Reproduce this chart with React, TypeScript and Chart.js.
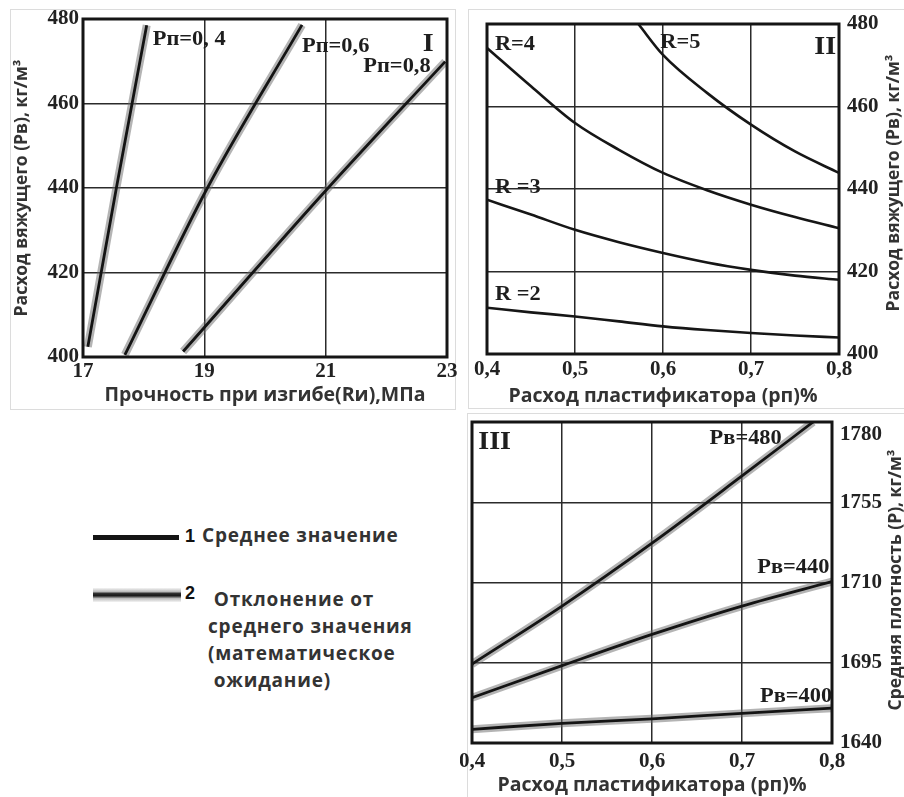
import React, { useEffect, useRef } from 'react';
import { Chart, registerables } from 'chart.js';

Chart.register(...registerables);

const SERIF = "'Liberation Serif', 'DejaVu Serif', 'Times New Roman', serif";
const SANS = "'Open Sans', 'Noto Sans', 'DejaVu Sans', sans-serif";

// ---------- Panel I : Прочность при изгибе ----------
const p1XTicks = [17, 19, 21, 23];
const p1YTicks = [400, 420, 440, 460, 480];
const p1Names = ['Рп=0, 4', 'Рп=0,6', 'Рп=0,8'];
const p1X04 = [17.08, 17.55, 18.05];
const p1Y04 = [402.4, 440, 478.5];
const p1X06 = [17.69, 19.05, 20.61];
const p1Y06 = [400.5, 440, 478.6];
const p1X08 = [18.65, 21.04, 22.97];
const p1Y08 = [401.3, 440, 469.9];

// ---------- Panel II : Расход вяжущего vs пластификатор ----------
const p2XTicks = [0.4, 0.5, 0.6, 0.7, 0.8];
const p2YTicks = [400, 420, 440, 460, 480];
const p2Names = ['R =2', 'R =3', 'R=4', 'R=5'];
const p2X = [0.4, 0.45, 0.5, 0.55, 0.6, 0.65, 0.7, 0.75, 0.8];
const p2R2 = [411.2, 410.1, 409.1, 407.9, 406.7, 405.8, 405.1, 404.5, 404.0];
const p2R3 = [437.4, 433.8, 430.1, 427.1, 424.5, 422.2, 420.4, 419.0, 418.0];
const p2R4 = [474.2, 464.9, 456.0, 449.5, 443.9, 439.7, 436.2, 433.2, 430.5];
const p2XR5 = [0.572, 0.6, 0.65, 0.7, 0.75, 0.8];
const p2R5 = [480, 472.5, 463.3, 455.6, 449.1, 443.9];

// ---------- Panel III : Средняя плотность ----------
const p3XTicks = [0.4, 0.5, 0.6, 0.7, 0.8];
const p3YTicks = [1640, 1695, 1710, 1755, 1780];
const p3Names = ['Рв=400', 'Рв=440', 'Рв=480'];
const p3X = [0.4, 0.5, 0.6, 0.7, 0.8];
const p3P400 = [1649.4, 1653.5, 1656.6, 1660.3, 1663.9];
const p3P440 = [1671, 1693, 1700.3, 1705.6, 1710.5];
const p3X480 = [0.4, 0.5, 0.6, 0.7, 0.779];
const p3P480 = [1694.1, 1705.6, 1732.1, 1763.2, 1780];

// label anchors (data units)
const p1Notes = [
  { text: p1Names[0], x: 18.15, y: 475, size: 20 },
  { text: p1Names[1], x: 20.61, y: 473.4, size: 20 },
  { text: p1Names[2], x: 21.62, y: 468.7, size: 20 },
  { text: 'I', x: 22.6, y: 473.9, size: 25 },
];
const p2Notes = [
  { text: p2Names[2], x: 0.409, y: 474.9, size: 20 },
  { text: p2Names[3], x: 0.597, y: 475.4, size: 20 },
  { text: p2Names[1], x: 0.409, y: 440.2, size: 20 },
  { text: p2Names[0], x: 0.409, y: 414.3, size: 20 },
  { text: 'II', x: 0.772, y: 474.4, size: 25 },
];
const p3Notes = [
  { text: p3Names[2], x: 0.664, y: 1774.8, size: 20 },
  { text: p3Names[1], x: 0.717, y: 1718, size: 20 },
  { text: p3Names[0], x: 0.72, y: 1671.5, size: 20 },
  { text: 'III', x: 0.407, y: 1773.7, size: 25 },
];

function pts(xs: number[], ys: number[]) {
  return xs.map((x, i) => ({ x, y: ys[i] }));
}

function densityToPos(d: number) {
  const v = p3YTicks;
  for (let i = 0; i < v.length - 1; i++) {
    if (d <= v[i + 1] || i === v.length - 2) return i + (d - v[i]) / (v[i + 1] - v[i]);
  }
  return 0;
}

function haloPair(data: any[], core = 2.8) {
  return [
    { data, borderColor: '#141414', borderWidth: core, pointRadius: 0, cubicInterpolationMode: 'monotone', order: 1 },
    { data, borderColor: 'rgba(105,105,105,0.5)', borderWidth: 8, pointRadius: 0, cubicInterpolationMode: 'monotone', order: 2 },
  ];
}

function plainLine(data: any[]) {
  return { data, borderColor: '#161616', borderWidth: 2.6, pointRadius: 0, cubicInterpolationMode: 'monotone', order: 1 };
}

const framePlugin = {
  id: 'frame',
  afterDatasetsDraw(chart: any) {
    const { ctx, chartArea: a } = chart;
    ctx.save();
    ctx.strokeStyle = '#151515';
    ctx.lineWidth = 3;
    ctx.strokeRect(a.left, a.top, a.right - a.left, a.bottom - a.top);
    ctx.restore();
  },
};

function notesPlugin(items: any[], mapY: (v: number) => number, side?: { text: string; x: number; y: number }) {
  return {
    id: 'notes',
    afterDraw(chart: any) {
      const { ctx } = chart;
      const xs = chart.scales.x;
      const ys = chart.scales.y;
      for (const n of items) {
        ctx.save();
        ctx.translate(xs.getPixelForValue(n.x), ys.getPixelForValue(mapY(n.y)));
        ctx.scale(1.12, 1);
        ctx.font = `bold ${n.size}px ${SERIF}`;
        ctx.fillStyle = '#1e1e1e';
        ctx.textBaseline = 'middle';
        ctx.textAlign = 'left';
        ctx.fillText(n.text, 0, 0);
        ctx.restore();
      }
      if (side) {
        ctx.save();
        ctx.translate(side.x, side.y);
        ctx.rotate(-Math.PI / 2);
        ctx.font = `bold 17.5px ${SANS}`;
        ctx.fillStyle = '#333';
        ctx.textAlign = 'center';
        ctx.textBaseline = 'middle';
        ctx.fillText(side.text, 0, 0);
        ctx.restore();
      }
    },
  };
}

const tickFont = { family: SERIF, size: 21, weight: 'bold' as const };
const grid = { color: '#2b2b2b', lineWidth: 1.5, drawTicks: false };
const titleFontX = { family: SANS, size: 19.5, weight: 'bold' as const };
const titleFontY = { family: SANS, size: 17.5, weight: 'bold' as const };
const comma = (v: any) => Number(v).toFixed(1).replace('.', ',');

function fitW(w: number) {
  return (s: any) => {
    s.width = w;
    s.paddingTop = 0;
    s.paddingBottom = 0;
  };
}
function fitH(h: number) {
  return (s: any) => {
    s.height = h;
    s.paddingLeft = 0;
    s.paddingRight = 0;
  };
}

function config1(): any {
  return {
    type: 'line',
    data: {
      datasets: [
        ...haloPair(pts(p1X04, p1Y04)),
        ...haloPair(pts(p1X06, p1Y06)),
        ...haloPair(pts(p1X08, p1Y08)),
      ],
    },
    plugins: [framePlugin, notesPlugin(p1Notes, (v) => v)],
    options: {
      responsive: false,
      animation: false,
      layout: { padding: { top: 19, right: 13, left: 0, bottom: 0 } },
      plugins: { legend: { display: false }, tooltip: { enabled: false } },
      scales: {
        x: {
          type: 'linear',
          min: p1XTicks[0],
          max: p1XTicks[p1XTicks.length - 1],
          ticks: { stepSize: p1XTicks[1] - p1XTicks[0], font: tickFont, color: '#222', padding: 2 },
          grid,
          border: { display: false },
          title: { display: true, text: 'Прочность при изгибе(Rи),МПа', font: titleFontX, color: '#333', padding: { top: 0, bottom: 3 } },
          afterFit: fitH(53),
        },
        y: {
          type: 'linear',
          min: p1YTicks[0],
          max: p1YTicks[p1YTicks.length - 1],
          ticks: { stepSize: p1YTicks[1] - p1YTicks[0], font: tickFont, color: '#222', padding: 4 },
          grid,
          border: { display: false },
          title: { display: true, text: 'Расход вяжущего (Рв), кг/м³', font: titleFontY, color: '#333', padding: { top: 12, bottom: 0 } },
          afterFit: fitW(83),
        },
      },
    },
  };
}

function config2(): any {
  return {
    type: 'line',
    data: {
      datasets: [
        plainLine(pts(p2X, p2R2)),
        plainLine(pts(p2X, p2R3)),
        plainLine(pts(p2X, p2R4)),
        plainLine(pts(p2XR5, p2R5)),
      ],
    },
    plugins: [framePlugin, notesPlugin(p2Notes, (v) => v, { text: 'Расход вяжущего (Рв), кг/м³', x: 434, y: 183 })],
    options: {
      responsive: false,
      animation: false,
      layout: { padding: { top: 24, right: 0, left: 27, bottom: 0 } },
      plugins: { legend: { display: false }, tooltip: { enabled: false } },
      scales: {
        x: {
          type: 'linear',
          min: p2XTicks[0],
          max: p2XTicks[p2XTicks.length - 1],
          ticks: { stepSize: 0.1, font: tickFont, color: '#222', padding: 3, callback: comma },
          grid,
          border: { display: false },
          title: { display: true, text: 'Расход пластификатора (рп)%', font: titleFontX, color: '#333', padding: { top: 0, bottom: 2 } },
          afterFit: fitH(56),
        },
        y: {
          type: 'linear',
          position: 'right',
          min: p2YTicks[0],
          max: p2YTicks[p2YTicks.length - 1],
          ticks: { stepSize: p2YTicks[1] - p2YTicks[0], font: tickFont, color: '#222', padding: 8 },
          grid,
          border: { display: false },
          afterFit: fitW(65),
        },
      },
    },
  };
}

function config3(): any {
  const toP = (xs: number[], ds: number[]) => xs.map((x, i) => ({ x, y: densityToPos(ds[i]) }));
  return {
    type: 'line',
    data: {
      datasets: [
        ...haloPair(toP(p3X, p3P400)),
        ...haloPair(toP(p3X, p3P440)),
        ...haloPair(toP(p3X480, p3P480)),
      ],
    },
    plugins: [framePlugin, notesPlugin(p3Notes, densityToPos, { text: 'Средняя плотность (Р), кг/м³', x: 436, y: 170 })],
    options: {
      responsive: false,
      animation: false,
      layout: { padding: { top: 12, right: 0, left: 12, bottom: 0 } },
      plugins: { legend: { display: false }, tooltip: { enabled: false } },
      scales: {
        x: {
          type: 'linear',
          min: p3XTicks[0],
          max: p3XTicks[p3XTicks.length - 1],
          ticks: { stepSize: 0.1, font: tickFont, color: '#222', padding: 6, callback: comma },
          grid,
          border: { display: false },
          title: { display: true, text: 'Расход пластификатора (рп)%', font: titleFontX, color: '#333', padding: { top: 0, bottom: 0 } },
          afterFit: fitH(54),
        },
        y: {
          type: 'linear',
          position: 'right',
          min: 0,
          max: p3YTicks.length - 1,
          ticks: {
            stepSize: 1,
            font: tickFont,
            color: '#222',
            padding: 8,
            callback: (v: any) => {
              const i = Math.round(Number(v));
              const lbl = p3YTicks[i] !== undefined ? String(p3YTicks[i]) : '';
              return i === p3YTicks.length - 1 ? ['', lbl] : lbl;
            },
          },
          grid,
          border: { display: false },
          afterFit: fitW(72),
        },
      },
    },
  };
}

function Panel(props: { left: number; top: number; width: number; height: number; make: () => any }) {
  const ref = useRef<HTMLCanvasElement>(null);
  useEffect(() => {
    const chart = new Chart(ref.current as HTMLCanvasElement, props.make());
    return () => chart.destroy();
  }, []);
  return (
    <canvas
      ref={ref}
      width={props.width}
      height={props.height}
      style={{ position: 'absolute', left: props.left, top: props.top, width: props.width, height: props.height }}
    />
  );
}

const frameBox = (left: number, top: number, w: number, h: number): React.CSSProperties => ({
  position: 'absolute', left, top, width: w, height: h, border: '1px solid #dcdcdc', boxSizing: 'border-box',
});

const legendText: React.CSSProperties = {
  position: 'absolute', font: `bold 19px ${SANS}`, letterSpacing: '0.8px', color: '#333', whiteSpace: 'pre', lineHeight: '22px',
};
const numText: React.CSSProperties = {
  position: 'absolute', font: `bold 18px 'Liberation Sans', Arial, sans-serif`, color: '#111', lineHeight: '22px',
};

export default function App() {
  return (
    <div style={{ position: 'absolute', left: 0, top: 0, width: 904, height: 797, background: '#fff', overflow: 'hidden' }}>
      <div style={frameBox(10, 9, 446, 401)} />
      <div style={frameBox(468, 9, 440, 400)} />
      <div style={frameBox(467, 413, 440, 390)} />
      <Panel left={0} top={0} width={460} height={410} make={config1} />
      <Panel left={460} top={0} width={444} height={410} make={config2} />
      <Panel left={460} top={410} width={444} height={387} make={config3} />

      <div style={{ position: 'absolute', left: 93, top: 535, width: 86, height: 5, background: '#141414' }} />
      <span style={{ ...numText, left: 185, top: 525 }}>1</span>
      <span style={{ ...legendText, left: 202, top: 524 }}>Среднее значение</span>

      <div
        style={{
          position: 'absolute', left: 93, top: 588, width: 88, height: 14,
          background: 'linear-gradient(to bottom, #f4f4f4 0%, #bdbdbd 25%, #2a2a2a 40%, #1a1a1a 55%, #bdbdbd 75%, #f4f4f4 100%)',
        }}
      />
      <span style={{ ...numText, left: 185, top: 582 }}>2</span>
      <div style={{ ...legendText, left: 208, top: 586, lineHeight: '27px' }}>
        {' Отклонение от\nсреднего значения\n(математическое\n ожидание)'}
      </div>
    </div>
  );
}
